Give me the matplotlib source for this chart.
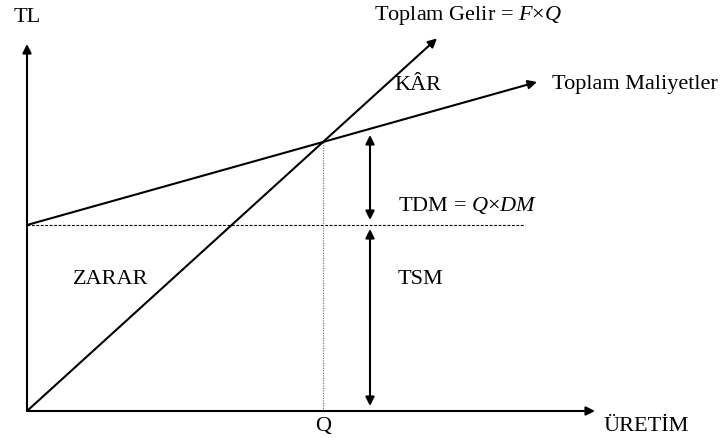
import matplotlib
matplotlib.use("Agg")
import matplotlib.pyplot as plt

plt.rcParams['font.family'] = ['Liberation Serif', 'DejaVu Serif']
plt.rcParams['mathtext.fontset'] = 'custom'
plt.rcParams['mathtext.rm'] = 'Liberation Serif'
plt.rcParams['mathtext.it'] = 'Liberation Serif:italic'

# break-even diagram, units measured from the origin of the axes
fixed_cost = 186           # TSM level
breakeven_q = 296          # Q
breakeven_tl = 269         # revenue = cost at Q
price = breakeven_tl / breakeven_q
unit_var_cost = (breakeven_tl - fixed_cost) / breakeven_q

x_axis_end = 568
y_axis_end = 367
revenue_end = 410
cost_end = 510
fixed_line_end = 498
span_x = 343               # where the TDM / TSM brackets stand

fig = plt.figure(figsize=(7.28, 4.39), dpi=100)
ax = fig.add_axes([0, 0, 1, 1])
ax.set_xlim(-27, 701)
ax.set_ylim(-27, 412)
ax.axis('off')

def arrow(x0, y0, x1, y1, style='-|>'):
    ax.annotate('', xy=(x1, y1), xytext=(x0, y0),
                arrowprops=dict(arrowstyle=style, color='black', lw=1.5,
                                mutation_scale=13, shrinkA=0, shrinkB=0))

# axes
arrow(0, 0, x_axis_end, 0)
arrow(0, 0, 0, y_axis_end)

# total revenue and total cost
arrow(0, 0, revenue_end, price * revenue_end)
arrow(0, fixed_cost, cost_end, fixed_cost + unit_var_cost * cost_end)

# fixed cost level and break-even quantity
ax.plot([0, fixed_line_end], [fixed_cost, fixed_cost], color='black',
        lw=0.8, linestyle=(0, (2.5, 1.5)))
ax.plot([breakeven_q, breakeven_q], [0, breakeven_tl], color='gray',
        lw=0.9, linestyle=(0, (1, 1)))

# TDM and TSM brackets
arrow(span_x, fixed_cost + 5, span_x, breakeven_tl + 7, '<|-|>')
arrow(span_x, 5, span_x, fixed_cost - 4, '<|-|>')

fs = 16
ax.text(0, 395, 'TL', fontsize=fs, ha='center', va='center')
ax.text(347, 397, 'Toplam Gelir = $F$×$Q$', fontsize=fs,
        ha='left', va='center')
ax.text(391, 327, 'KÂR', fontsize=fs, ha='center', va='center')
ax.text(525, 327, 'Toplam Maliyetler', fontsize=fs, ha='left', va='center')
ax.text(371, 207, 'TDM = $Q$×$DM$', fontsize=fs,
        ha='left', va='center')
ax.text(371, 132, 'TSM', fontsize=fs, ha='left', va='center')
ax.text(46, 132, 'ZARAR', fontsize=fs, ha='left', va='center')
ax.text(breakeven_q, -15, 'Q', fontsize=fs, ha='center', va='center')
ax.text(576, -15, 'ÜRETİM', fontsize=fs, ha='left', va='center')

fig.savefig('out.png', dpi=100, facecolor='white')
